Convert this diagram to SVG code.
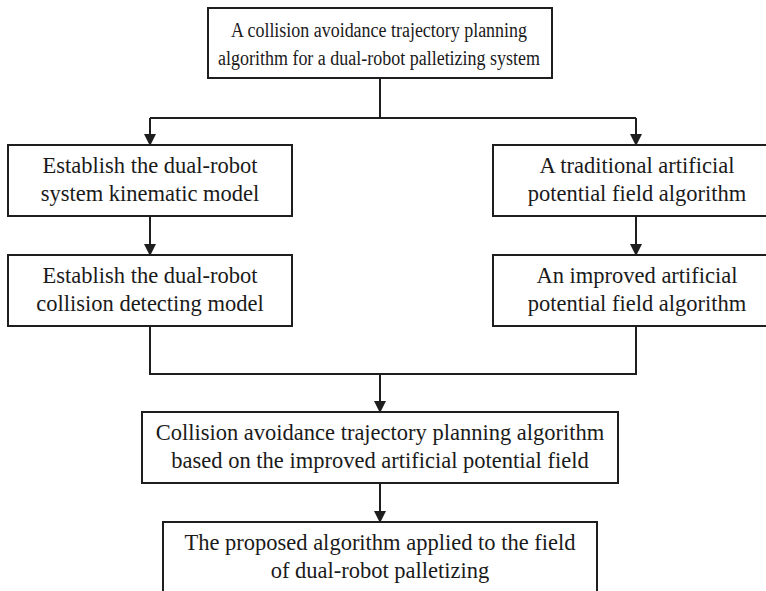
<svg xmlns="http://www.w3.org/2000/svg" width="766" height="591" viewBox="0 0 766 591">
<style>
  .box { fill: #ffffff; stroke: #1e1e1e; stroke-width: 2; }
  .t { font-family: "Liberation Serif", "Times New Roman", serif; font-size: 22.5px; fill: #1a1a1a; text-anchor: middle; }
  .c { fill: none; stroke: #1e1e1e; stroke-width: 2; }
</style>
<defs>
  <marker id="arr" markerWidth="12" markerHeight="12" refX="11" refY="6" orient="auto" markerUnits="userSpaceOnUse">
    <path d="M0,0 L12,6 L0,12 Z" fill="#1e1e1e"/>
  </marker>
</defs>
<rect width="766" height="591" fill="#ffffff"/>
<g id="connectors">
  <path class="c" d="M380,78 V118 M150,118 H636"/>
  <path class="c" d="M150,118 V145" marker-end="url(#arr)"/>
  <path class="c" d="M636,118 V145" marker-end="url(#arr)"/>
  <path class="c" d="M150,216 V255" marker-end="url(#arr)"/>
  <path class="c" d="M636,216 V255" marker-end="url(#arr)"/>
  <path class="c" d="M150,326 V374 H636 V326"/>
  <path class="c" d="M380,374 V412" marker-end="url(#arr)"/>
  <path class="c" d="M380,483 V522" marker-end="url(#arr)"/>
</g>
<g id="top">
  <rect class="box" x="208" y="8" width="344" height="70"/>
  <text class="t" x="379" y="37" style="font-size:20px" textLength="296" lengthAdjust="spacingAndGlyphs">A collision avoidance trajectory planning</text>
  <text class="t" x="379" y="65" style="font-size:20px" textLength="322" lengthAdjust="spacingAndGlyphs">algorithm for a dual-robot palletizing system</text>
</g>
<g id="kinematic">
  <rect class="box" x="8" y="145" width="284" height="71"/>
  <text class="t" x="150" y="173">Establish the dual-robot</text>
  <text class="t" x="150" y="201">system kinematic model</text>
</g>
<g id="collision">
  <rect class="box" x="8" y="255" width="284" height="71"/>
  <text class="t" x="150" y="283">Establish the dual-robot</text>
  <text class="t" x="150" y="311">collision detecting model</text>
</g>
<g id="traditional">
  <rect class="box" x="493" y="145" width="290" height="71"/>
  <text class="t" x="637" y="173">A traditional artificial</text>
  <text class="t" x="637" y="201">potential field algorithm</text>
</g>
<g id="improved">
  <rect class="box" x="493" y="255" width="290" height="71"/>
  <text class="t" x="637" y="283">An improved artificial</text>
  <text class="t" x="637" y="311">potential field algorithm</text>
</g>
<g id="apf">
  <rect class="box" x="142" y="412" width="476" height="71"/>
  <text class="t" x="380" y="440">Collision avoidance trajectory planning algorithm</text>
  <text class="t" x="380" y="468">based on the improved artificial potential field</text>
</g>
<g id="applied">
  <rect class="box" x="163" y="522" width="434" height="80"/>
  <text class="t" x="380" y="550">The proposed algorithm applied to the field</text>
  <text class="t" x="380" y="578">of dual-robot palletizing</text>
</g>
</svg>
